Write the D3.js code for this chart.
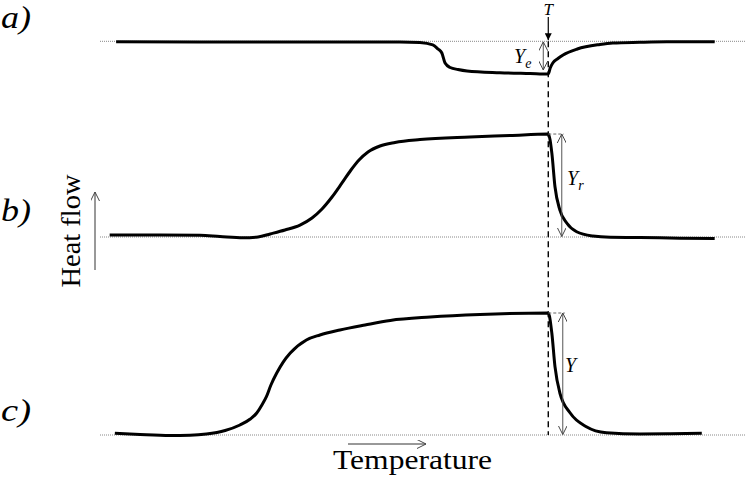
<!DOCTYPE html>
<html>
<head>
<meta charset="utf-8">
<script src="https://cdn.jsdelivr.net/npm/d3@7"></script>
<style>
  body { margin: 0; background: #fff; }
  svg { display: block; }
</style>
</head>
<body>
<svg id="chart" width="747" height="479"></svg>
<script>
// Temperature (arbitrary units, 0..100) and heat flow (relative units)
const transitionT = 69.5;

// a) total heat flow
const tempA = [2.5, 15.5, 31, 46.5, 49.6, 51.6, 52.4, 53, 53.5, 54.3, 55.5, 56.9, 62, 66.7, 69.5,
               69.8, 70.2, 71, 71.8, 74, 77.5, 79.5, 83.7, 87.9, 95.3];
const flowA = [-0.004, -0.006, -0.006, -0.005, -0.01, -0.03, -0.063, -0.096, -0.178, -0.215, -0.231, -0.243, -0.257, -0.264, -0.268,
               -0.219, -0.178, -0.141, -0.112, -0.063, -0.026, -0.014, -0.008, -0.004, -0.003];

// b) reversing heat flow
const tempB = [1.5, 9.3, 15.5, 18.6, 22.2, 24.5, 26.4, 28.68, 31.01, 32.87, 34.42, 35.97, 37.52, 38.91, 40.16, 41.55, 43.41, 45.74, 49.61, 57.36, 63.57, 69.5,
               70.05, 70.54, 71.3, 72.36, 73.9, 76.4, 79.1, 83.7, 89.9, 95.3];
const flowB = [0.016, 0.016, 0.014, 0.004, -0.006, 0, 0.025, 0.057, 0.098, 0.156, 0.23, 0.328, 0.443, 0.549, 0.631, 0.697, 0.746, 0.775, 0.799, 0.82, 0.832, 0.844,
               0.689, 0.412, 0.221, 0.115, 0.043, 0.008, -0.002, -0.004, -0.01, -0.012];

// c) non-reversing heat flow
const tempC = [2.3, 6.2, 10.85, 13.95, 16.5, 19.4, 21.7, 23.3, 24.3, 25.1, 25.8, 26.5, 27.4, 28.4, 29.5, 32, 34.1, 37.2, 41.1, 45, 51.2, 58.9, 69.5,
               70.05, 70.54, 71.3, 72.9, 75.4, 78.5, 83.7, 88.4, 93.3];
const flowC = [0.014, 0.004, -0.004, -0.002, 0.008, 0.037, 0.082, 0.131, 0.18, 0.246, 0.314, 0.41, 0.508, 0.598, 0.672, 0.779, 0.82, 0.861, 0.902, 0.939, 0.967, 0.988, 1.0,
               0.836, 0.56, 0.344, 0.18, 0.068, 0.019, 0.008, 0.01, 0.014];

const panelLabels = ["a)", "b)", "c)"];
const heightLabels = [["Y", "e"], ["Y", "r"], ["Y", ""]];

const serif = "Liberation Serif";
const svg = d3.select("#chart");

// layout
const x = d3.scaleLinear().domain([0, 100]).range([100, 745]);
const baselines = [41.3, 237, 435];
const unit = 122; // pixels per heat flow unit
const yScales = baselines.map(b => d3.scaleLinear().domain([0, 1]).range([b, b - unit]));
const xT = x(transitionT);

const defs = svg.append("defs");
defs.append("marker").attr("id", "open").attr("viewBox", "0 0 10 10")
  .attr("refX", 10).attr("refY", 5).attr("markerWidth", 9).attr("markerHeight", 9)
  .attr("markerUnits", "userSpaceOnUse").attr("orient", "auto-start-reverse")
  .append("path").attr("d", "M0,0 L10,5 L0,10").attr("fill", "none").attr("stroke", "#444").attr("stroke-width", 1.1);
defs.append("marker").attr("id", "solid").attr("viewBox", "0 0 10 10")
  .attr("refX", 10).attr("refY", 5).attr("markerWidth", 8).attr("markerHeight", 7)
  .attr("markerUnits", "userSpaceOnUse").attr("orient", "auto")
  .append("path").attr("d", "M0,0 L10,5 L0,10 Z").attr("fill", "#000");

// dotted baselines
svg.selectAll(".base").data(baselines).enter().append("line")
  .attr("x1", x(0)).attr("x2", x(100))
  .attr("y1", d => d).attr("y2", d => d)
  .attr("stroke", "#888").attr("stroke-width", 1).attr("stroke-dasharray", "1,1");

// curves
const series = [[tempA, flowA], [tempB, flowB], [tempC, flowC]];
series.forEach(([t, f], i) => {
  const line = d3.line().x(d => x(d[0])).y(d => yScales[i](d[1])).curve(d3.curveMonotoneX);
  svg.append("path").datum(t.map((v, k) => [v, f[k]]))
    .attr("d", line).attr("fill", "none").attr("stroke", "#000")
    .attr("stroke-width", 3).attr("stroke-linejoin", "round");
});

// dashed vertical line at T
svg.append("line").attr("x1", xT).attr("x2", xT)
  .attr("y1", baselines[0]).attr("y2", baselines[2])
  .attr("stroke", "#000").attr("stroke-width", 1.4).attr("stroke-dasharray", "6,4");

// T arrow
svg.append("text").attr("x", xT).attr("y", 15).attr("text-anchor", "middle")
  .attr("font-family", serif).attr("font-size", 17).attr("font-style", "italic").text("T");
svg.append("line").attr("x1", xT).attr("x2", xT).attr("y1", 17).attr("y2", baselines[0] - 1)
  .attr("stroke", "#000").attr("stroke-width", 1.2).attr("marker-end", "url(#solid)");

// height arrows
const peaks = [yScales[0](flowA[tempA.indexOf(transitionT)]) - 4,
               yScales[1](flowB[tempB.indexOf(transitionT)]),
               yScales[2](flowC[tempC.indexOf(transitionT)])];
const arrowX = [xT - 5, xT + 13.5, xT + 14.5];
const labelPos = [[514, 63], [567, 185], [565, 372]];
peaks.forEach((p, i) => {
  svg.append("line").attr("x1", arrowX[i]).attr("x2", arrowX[i])
    .attr("y1", i === 0 ? baselines[0] + 0.5 : p).attr("y2", i === 0 ? p : baselines[i] - 0.5)
    .attr("stroke", "#555").attr("stroke-width", 1)
    .attr("marker-start", "url(#open)").attr("marker-end", "url(#open)");
  if (i > 0) {
    svg.append("line").attr("x1", xT).attr("x2", arrowX[i] + 2).attr("y1", p).attr("y2", p)
      .attr("stroke", "#666").attr("stroke-width", 1).attr("stroke-dasharray", "3,2");
  }
  const lab = svg.append("text").attr("x", labelPos[i][0]).attr("y", labelPos[i][1])
    .attr("font-family", serif).attr("font-size", 20).attr("font-style", "italic");
  lab.append("tspan").text(heightLabels[i][0]);
  if (heightLabels[i][1]) {
    lab.append("tspan").attr("dy", 5).attr("font-size", 14).text(heightLabels[i][1]);
  }
});

// panel labels
const labelBase = [28, 221, 421];
svg.selectAll(".plab").data(panelLabels).enter().append("text")
  .attr("x", 1).attr("y", (d, i) => labelBase[i])
  .attr("font-family", serif).attr("font-size", 31).attr("font-style", "italic")
  .attr("textLength", 30).attr("lengthAdjust", "spacingAndGlyphs").text(d => d);

// axis titles
svg.append("text").attr("transform", "translate(80,231) rotate(-90)")
  .attr("text-anchor", "middle").attr("font-family", serif).attr("font-size", 27)
  .attr("textLength", 113).attr("lengthAdjust", "spacingAndGlyphs").text("Heat flow");
svg.append("line").attr("x1", 95).attr("x2", 95).attr("y1", 270).attr("y2", 192)
  .attr("stroke", "#333").attr("stroke-width", 1).attr("marker-end", "url(#open)");

svg.append("text").attr("x", 333).attr("y", 469)
  .attr("font-family", serif).attr("font-size", 27)
  .attr("textLength", 159).attr("lengthAdjust", "spacingAndGlyphs").text("Temperature");
svg.append("line").attr("x1", 348).attr("x2", 426).attr("y1", 444).attr("y2", 444)
  .attr("stroke", "#333").attr("stroke-width", 1).attr("marker-end", "url(#open)");
</script>
</body>
</html>
